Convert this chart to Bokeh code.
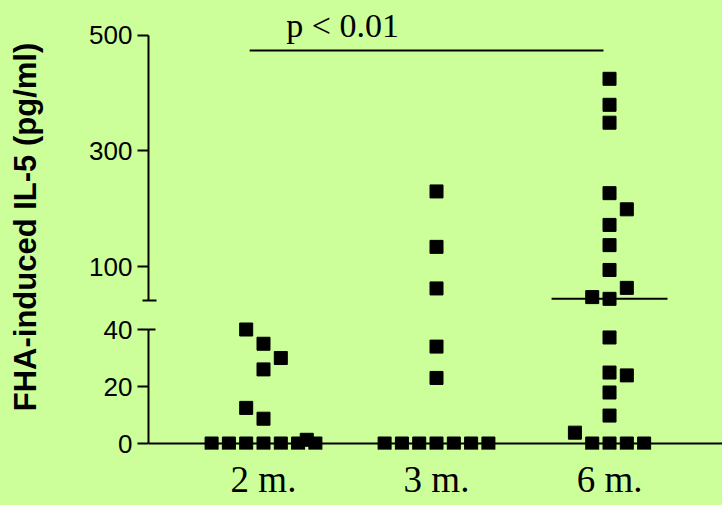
import numpy as np
from bokeh.plotting import figure
from bokeh.layouts import row, column
from bokeh.models import Range1d, FixedTicker, Span, ColumnDataSource
from bokeh.core.properties import value
from bokeh.embed import file_html
from bokeh.resources import INLINE

# ---------------- data ----------------
groups = ["2 m.", "3 m.", "6 m."]
group_pos = [1, 2, 3]

il5_2m = [40, 35, 30, 26, 12.5, 8.7, 1.3, 0, 0, 0, 0, 0, 0, 0]
slot_2m = [-1, 0, 1, 0, -1, 0, 2.5, -3, -2, -1, 0, 1, 2, 3]

il5_3m = [230, 134, 62, 34, 23, 0, 0, 0, 0, 0, 0, 0]
slot_3m = [0, 0, 0, 0, 0, -3, -2, -1, 0, 1, 2, 3]

il5_6m = [425, 380, 349, 227, 199, 172, 137, 94, 63, 47, 44,
          37.2, 24.9, 23.9, 17.9, 9.8, 3.8, 0, 0, 0, 0]
slot_6m = [0, 0, 0, 0, 1, 0, 0, 0, 1, -1, 0,
           0, 0, 1, 0, 0, -2, -1, 0, 1, 2]

y_ticks_upper = [100, 300, 500]
y_ticks_lower = [0, 20, 40]
break_low = 40          # top of lower segment
break_high = 41         # bottom of upper segment
p_text = "p < 0.01"
y_title = "FHA-induced IL-5 (pg/ml)"

# ---------------- styling / layout constants ----------------
BG = "#CCFF99"
SLOT = 0.1
TITLE_W = 50
FIG_W = 722 - TITLE_W
UP_H = 312
LOW_H = 505 - UP_H
LEFT = 148 - TITLE_W
LOW_BOTTOM = 56

xr = Range1d(0.3353, 3.653)

xs, ys = [], []
for pos, vals, slots in [(1, il5_2m, slot_2m), (2, il5_3m, slot_3m), (3, il5_6m, slot_6m)]:
    for v, s in zip(vals, slots):
        xs.append(pos + s * SLOT)
        ys.append(v)
xs = np.array(xs)
ys = np.array(ys)
up_mask = ys > break_low
src_up = ColumnDataSource(dict(x=xs[up_mask], y=ys[up_mask]))
src_low = ColumnDataSource(dict(x=xs[~up_mask], y=ys[~up_mask]))

median_6m = float(np.median(il5_6m))


def base_fig(**kw):
    f = figure(output_backend="svg", toolbar_location=None,
               background_fill_color=BG, border_fill_color=BG,
               outline_line_color=None, **kw)
    f.xgrid.visible = False
    f.ygrid.visible = False
    return f


def style_yaxis(ax):
    ax.axis_line_width = 2
    ax.axis_line_color = "black"
    ax.major_tick_line_width = 2
    ax.minor_tick_line_width = 2
    ax.major_tick_out = 11
    ax.major_tick_in = 0
    ax.major_label_text_font = "Liberation Sans"
    ax.major_label_text_font_size = "26px"
    ax.major_label_text_color = "black"
    ax.major_label_standoff = 5


# ---------------- upper figure ----------------
up = base_fig(width=FIG_W, height=UP_H, x_range=xr,
              y_range=Range1d(20.35, 560.6), x_axis_location=None,
              min_border_left=LEFT, min_border_right=0,
              min_border_top=0, min_border_bottom=0)
ya = up.yaxis[0]
style_yaxis(ya)
ya.ticker = FixedTicker(ticks=y_ticks_upper, minor_ticks=[break_high])
ya.bounds = (break_high, 500)
ya.minor_tick_out = 6
ya.minor_tick_in = 8

up.scatter("x", "y", source=src_up, marker="square", size=13,
           fill_color="black", line_color="black")
up.segment(x0=[3 - 0.335], x1=[3 + 0.335], y0=[median_6m], y1=[median_6m],
           line_color="black", line_width=2)
# significance bar
up.segment(x0=[0.92], x1=[2.965], y0=[474], y1=[474], line_color="black", line_width=2)
up.text(x=[1.457], y=[517], text=[p_text], text_font=value("Liberation Serif"),
        text_font_size="34px", text_align="center", text_baseline="alphabetic",
        text_color="black")

# ---------------- lower figure ----------------
frame_h = LOW_H - LOW_BOTTOM
px_per_unit = 2.85
low_hi = break_low + 17 / px_per_unit
low_lo = low_hi - frame_h / px_per_unit
low = base_fig(width=FIG_W, height=LOW_H, x_range=xr,
               y_range=Range1d(low_lo, low_hi),
               min_border_left=LEFT, min_border_right=0,
               min_border_top=0, min_border_bottom=LOW_BOTTOM)
yb = low.yaxis[0]
style_yaxis(yb)
yb.ticker = FixedTicker(ticks=y_ticks_lower, minor_ticks=[break_low])
yb.bounds = (0, break_low)
yb.minor_tick_out = 0
yb.minor_tick_in = 7

xa = low.xaxis[0]
xa.ticker = FixedTicker(ticks=group_pos)
xa.major_label_overrides = {p: g for p, g in zip(group_pos, groups)}
xa.axis_line_color = None
xa.major_tick_line_color = None
xa.minor_tick_line_color = None
xa.major_tick_out = 0
xa.major_tick_in = 0
xa.major_label_text_font = "Liberation Serif"
xa.major_label_text_font_size = "37px"
xa.major_label_text_color = "black"
xa.major_label_standoff = 9

low.add_layout(Span(location=0, dimension="width", line_color="black", line_width=2))
low.scatter("x", "y", source=src_low, marker="square", size=13,
            fill_color="black", line_color="black")

# ---------------- y title strip ----------------
tf = base_fig(width=TITLE_W, height=505, x_range=Range1d(0, TITLE_W),
              y_range=Range1d(0, 505), x_axis_location=None, y_axis_location=None,
              min_border=0)
tf.text(x=[25], y=[505 - 226.5], text=[y_title], angle=np.pi / 2,
        text_font=value("Liberation Sans"), text_font_style="bold",
        text_font_size="31px", text_align="center", text_baseline="middle",
        text_color="black")

layout = row(tf, column(up, low, spacing=0), spacing=0)
html = file_html(layout, INLINE)
html = html.replace("<head>", "<head><style>html,body{margin:0;padding:0;background:%s;}</style>" % BG, 1)
open("out.html", "w").write(html)
